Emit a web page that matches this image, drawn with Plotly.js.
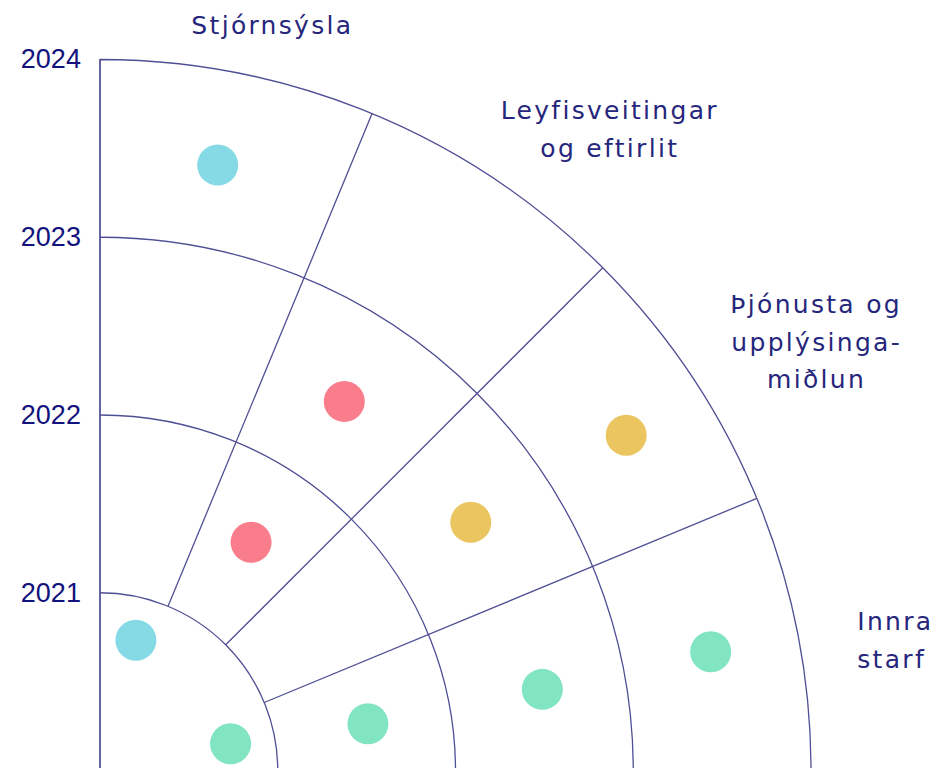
<!DOCTYPE html>
<html><head><meta charset="utf-8">
<script src="https://cdn.plot.ly/plotly-3.0.1.min.js"></script>
<style>html,body{margin:0;padding:0;overflow:hidden;background:#fff}#chart{width:940px;height:780px}
#chart .annotation-text{letter-spacing:2.3px}</style>
</head><body><div id="chart"></div>
<script>
// ---- data ----
const categories = ['Stjórnsýsla', 'Leyfisveitingar og eftirlit', 'Þjónusta og upplýsingamiðlun', 'Innra starf'];
const categoryLabelLines = [['Stjórnsýsla'], ['Leyfisveitingar', 'og eftirlit'], ['Þjónusta og', 'upplýsinga-', 'miðlun'], ['Innra', 'starf']];
const yearTicks = [2021, 2022, 2023, 2024];
const yearRange = [2020, 2024];
const sectorEdges = [22.5, 45, 67.5];
const sectorInnerYear = 2021;

const stjornsyslaYear = [2020.76, 2023.47];
const stjornsyslaAngle = [74.6, 79.0];
const leyfisYear = [2021.54, 2022.49];
const leyfisAngle = [56.5, 56.5];
const thjonustaYear = [2022.51, 2023.51];
const thjonustaAngle = [33.8, 32.5];
const innraYear = [2020.75, 2021.53, 2022.53, 2023.50];
const innraAngle = [11.6, 9.9, 10.4, 11.0];

// ---- styles ----
const lineColor = '#4f4f95';
const colors = ['#86dae5', '#fa7d8c', '#ebc55f', '#82e5c2'];

const series = [
  [stjornsyslaYear, stjornsyslaAngle],
  [leyfisYear, leyfisAngle],
  [thjonustaYear, thjonustaAngle],
  [innraYear, innraAngle]
];

const traces = [];
// sector dividers (start at the first ring)
const divR = [], divT = [];
sectorEdges.forEach(a => { divR.push(sectorInnerYear, yearRange[1], null); divT.push(a, a, null); });
traces.push({type: 'scatterpolar', mode: 'lines', r: divR, theta: divT,
  line: {color: lineColor, width: 1.3}, hoverinfo: 'skip', showlegend: false});

series.forEach((s, i) => {
  traces.push({type: 'scatterpolar', mode: 'markers', name: categories[i],
    r: s[0], theta: s[1],
    marker: {size: 41, color: colors[i], line: {width: 0}},
    showlegend: false, hoverinfo: 'skip'});
});

// label placement (pixel -> paper)
const W = 940, H = 780, M = {l: 100, r: 129, t: 59, b: 9};
const px2x = p => (p - M.l) / (W - M.l - M.r);
const py2y = p => (H - M.b - p) / (H - M.t - M.b);
const labelPlace = [
  {x: 272, y0: 25, anchor: 'center'},
  {x: 610, y0: 111, anchor: 'center'},
  {x: 816, y0: 304.5, anchor: 'center'},
  {x: 861, y0: 621.5, anchor: 'left'}
];
const lineStep = 37.5;
const annotations = [];
categoryLabelLines.forEach((lines, i) => {
  lines.forEach((t, k) => {
    annotations.push({text: t, xref: 'paper', yref: 'paper',
      x: px2x(labelPlace[i].x), y: py2y(labelPlace[i].y0 + k * lineStep),
      xanchor: labelPlace[i].anchor, yanchor: 'middle', showarrow: false,
      font: {family: 'DejaVu Sans', size: 25, color: '#26267c'}});
  });
});

const layout = {
  width: W, height: H,
  margin: M,
  paper_bgcolor: '#fff',
  showlegend: false,
  polar: {
    sector: [0, 90],
    bgcolor: '#fff',
    radialaxis: {
      range: yearRange, tickvals: yearTicks, ticktext: yearTicks.map(String),
      angle: 90, side: 'counterclockwise', tickangle: 90,
      showline: true, linecolor: lineColor, linewidth: 1.3,
      showgrid: true, gridcolor: lineColor, gridwidth: 1.3,
      ticks: 'outside', ticklen: 9, tickcolor: 'rgba(0,0,0,0)',
      tickfont: {family: 'Liberation Sans, Arial', size: 27, color: '#12127c'}
    },
    angularaxis: {
      showgrid: false, showline: true, linecolor: lineColor, linewidth: 1.3,
      showticklabels: false, ticks: '', direction: 'counterclockwise', rotation: 0
    }
  },
  annotations: annotations
};

Plotly.newPlot('chart', traces, layout, {displayModeBar: false, staticPlot: true});
</script></body></html>
